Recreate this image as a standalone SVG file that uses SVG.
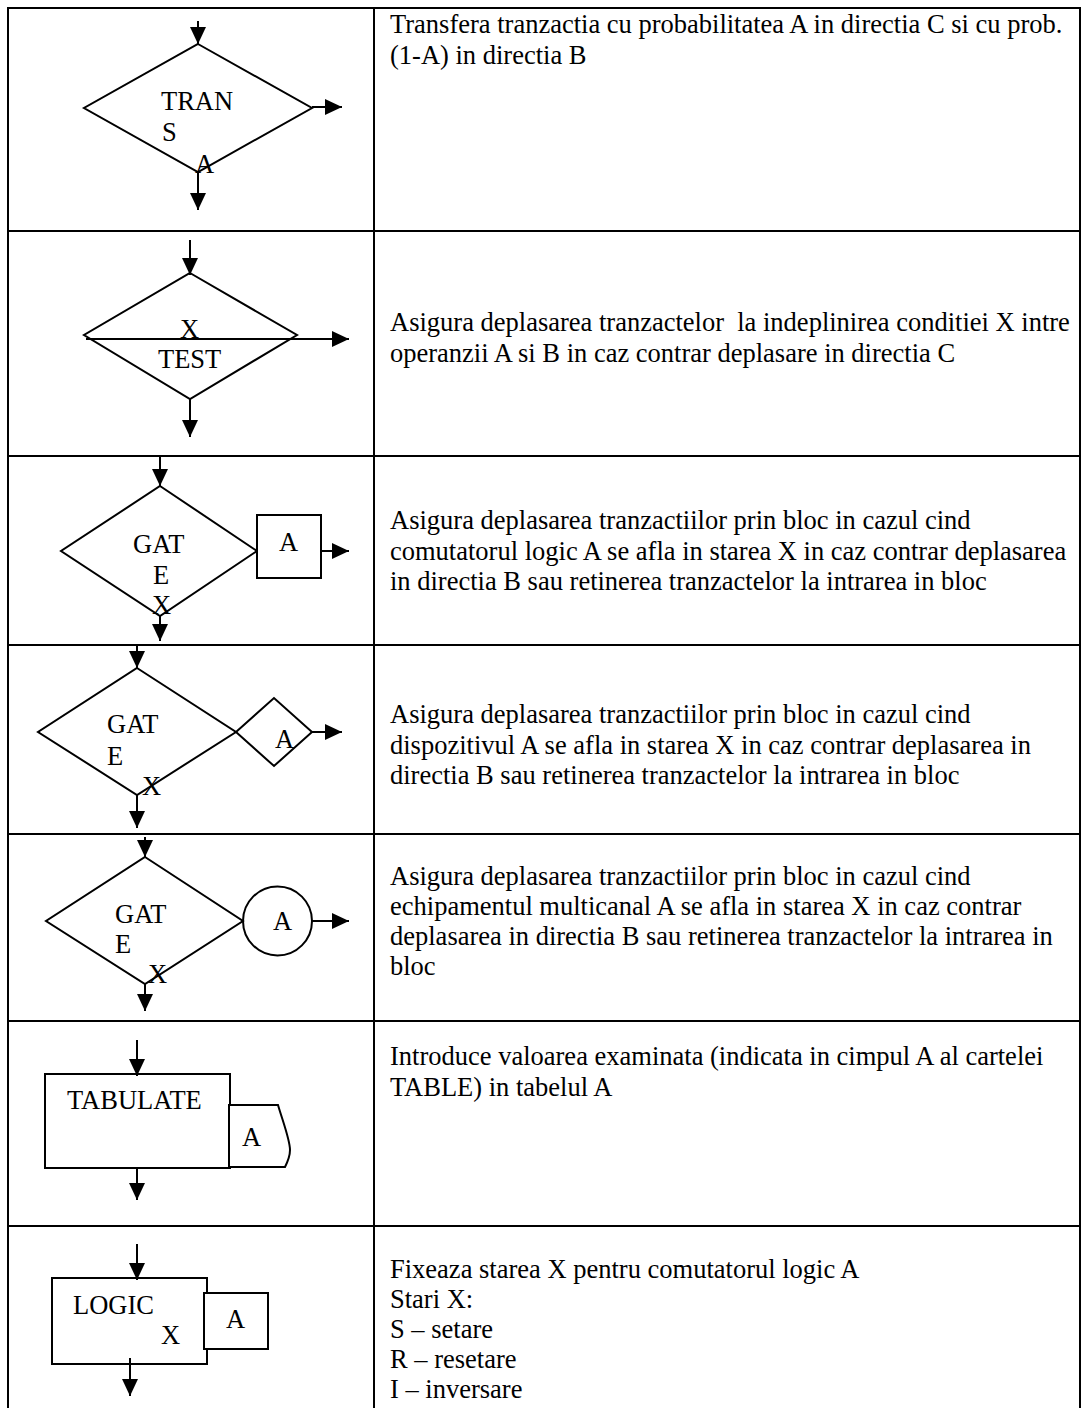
<svg xmlns="http://www.w3.org/2000/svg" width="1082" height="1408" viewBox="0 0 1082 1408">
<style>
  text { font-family: "Liberation Serif", "Times New Roman", serif; font-size: 26.5px; fill: #000; }
  .desc { white-space: pre; }
  .grid { stroke: #000; stroke-width: 2; fill: none; }
  .shape { stroke: #000; stroke-width: 2; fill: none; }
  .wshape { stroke: #000; stroke-width: 2; fill: #fff; }
  .conn line { stroke: #000; stroke-width: 2; marker-end: url(#ah); }
</style>
<defs>
  <marker id="ah" markerUnits="userSpaceOnUse" markerWidth="17" markerHeight="16" refX="17" refY="8" orient="auto">
    <path d="M0,0 L17,8 L0,16 z" fill="#000"/>
  </marker>
</defs>
<rect width="1082" height="1408" fill="#fff"/>

<g id="table" class="grid">
  <line x1="8" y1="8" x2="8" y2="1408"/>
  <line x1="1080" y1="8" x2="1080" y2="1408"/>
  <line x1="374" y1="8" x2="374" y2="1408"/>
  <line x1="7" y1="8" x2="1081" y2="8"/>
  <line x1="7" y1="231" x2="1081" y2="231"/>
  <line x1="7" y1="456" x2="1081" y2="456"/>
  <line x1="7" y1="645" x2="1081" y2="645"/>
  <line x1="7" y1="834" x2="1081" y2="834"/>
  <line x1="7" y1="1021" x2="1081" y2="1021"/>
  <line x1="7" y1="1226" x2="1081" y2="1226"/>
</g>

<g id="trans">
  <polygon class="shape" points="198,44 312,108 198,172 84,108"/>
  <text x="161" y="110">TRAN</text>
  <text x="162" y="141">S</text>
  <text x="195" y="173">A</text>
</g>

<g id="test">
  <polygon class="shape" points="190,273 297,335 190,399 84,335"/>
  <text x="180" y="338">X</text>
  <text x="158" y="368">TEST</text>
</g>

<g id="gate-switch">
  <polygon class="shape" points="160,486 257,551 160,616 61,551"/>
  <text x="133" y="553">GAT</text>
  <text x="153" y="584">E</text>
  <text x="152" y="614">X</text>
  <rect class="wshape" x="257" y="515" width="64" height="63"/>
  <text x="279" y="551">A</text>
</g>

<g id="gate-device">
  <polygon class="shape" points="137,668 236,732 137,795 38,732"/>
  <polygon class="shape" points="236,732 274,698 312,732 274,766"/>
  <text x="107" y="733">GAT</text>
  <text x="107" y="765">E</text>
  <text x="142" y="795">X</text>
  <text x="275" y="748">A</text>
</g>

<g id="gate-storage">
  <polygon class="shape" points="145,857 243,921 145,984 46,921"/>
  <circle class="shape" cx="277.5" cy="921" r="34.5"/>
  <text x="115" y="923">GAT</text>
  <text x="115" y="953">E</text>
  <text x="148" y="983">X</text>
  <text x="273" y="930">A</text>
</g>

<g id="tabulate">
  <rect class="shape" x="45" y="1074" width="185" height="94"/>
  <path class="wshape" d="M229,1105 H278 C283,1122 290,1140 290,1150 C290,1157 287,1163 285,1167 H229 Z"/>
  <text x="67" y="1109">TABULATE</text>
  <text x="242" y="1146">A</text>
</g>

<g id="logic">
  <rect class="shape" x="52" y="1278" width="155" height="86"/>
  <rect class="wshape" x="204" y="1293" width="64" height="56"/>
  <text x="73" y="1314">LOGIC</text>
  <text x="161" y="1344">X</text>
  <text x="226" y="1328">A</text>
</g>

<g id="connectors" class="conn">
  <line x1="198" y1="21" x2="198" y2="44"/>
  <line x1="312" y1="107" x2="342" y2="107"/>
  <line x1="198" y1="172" x2="198" y2="210"/>

  <line x1="190" y1="240" x2="190" y2="275"/>
  <line x1="86" y1="339" x2="349" y2="339"/>
  <line x1="190" y1="399" x2="190" y2="437"/>

  <line x1="160" y1="456" x2="160" y2="486"/>
  <line x1="321" y1="551" x2="349" y2="551"/>
  <line x1="160" y1="616" x2="160" y2="641"/>

  <line x1="137" y1="645" x2="137" y2="668"/>
  <line x1="312" y1="732" x2="342" y2="732"/>
  <line x1="137" y1="795" x2="137" y2="828"/>

  <line x1="145" y1="837" x2="145" y2="857"/>
  <line x1="312" y1="921" x2="349" y2="921"/>
  <line x1="145" y1="984" x2="145" y2="1011"/>

  <line x1="137" y1="1040" x2="137" y2="1076"/>
  <line x1="137" y1="1168" x2="137" y2="1200"/>

  <line x1="137" y1="1244" x2="137" y2="1280"/>
  <line x1="130" y1="1358" x2="130" y2="1396"/>
</g>

<g id="descriptions">
  <text class="desc" x="390" y="33">Transfera tranzactia cu probabilitatea A in directia C si cu prob.</text>
  <text class="desc" x="390" y="64">(1-A) in directia B</text>

  <text class="desc" x="390" y="331">Asigura deplasarea tranzactelor  la indeplinirea conditiei X intre</text>
  <text class="desc" x="390" y="362">operanzii A si B in caz contrar deplasare in directia C</text>

  <text class="desc" x="390" y="529">Asigura deplasarea tranzactiilor prin bloc in cazul cind</text>
  <text class="desc" x="390" y="560">comutatorul logic A se afla in starea X in caz contrar deplasarea</text>
  <text class="desc" x="390" y="590">in directia B sau retinerea tranzactelor la intrarea in bloc</text>

  <text class="desc" x="390" y="723">Asigura deplasarea tranzactiilor prin bloc in cazul cind</text>
  <text class="desc" x="390" y="754">dispozitivul A se afla in starea X in caz contrar deplasarea in</text>
  <text class="desc" x="390" y="784">directia B sau retinerea tranzactelor la intrarea in bloc</text>

  <text class="desc" x="390" y="885">Asigura deplasarea tranzactiilor prin bloc in cazul cind</text>
  <text class="desc" x="390" y="915">echipamentul multicanal A se afla in starea X in caz contrar</text>
  <text class="desc" x="390" y="945">deplasarea in directia B sau retinerea tranzactelor la intrarea in</text>
  <text class="desc" x="390" y="975">bloc</text>

  <text class="desc" x="390" y="1065">Introduce valoarea examinata (indicata in cimpul A al cartelei</text>
  <text class="desc" x="390" y="1096">TABLE) in tabelul A</text>

  <text class="desc" x="390" y="1278">Fixeaza starea X pentru comutatorul logic A</text>
  <text class="desc" x="390" y="1308">Stari X:</text>
  <text class="desc" x="390" y="1338">S – setare</text>
  <text class="desc" x="390" y="1368">R – resetare</text>
  <text class="desc" x="390" y="1398">I – inversare</text>
</g>
</svg>
